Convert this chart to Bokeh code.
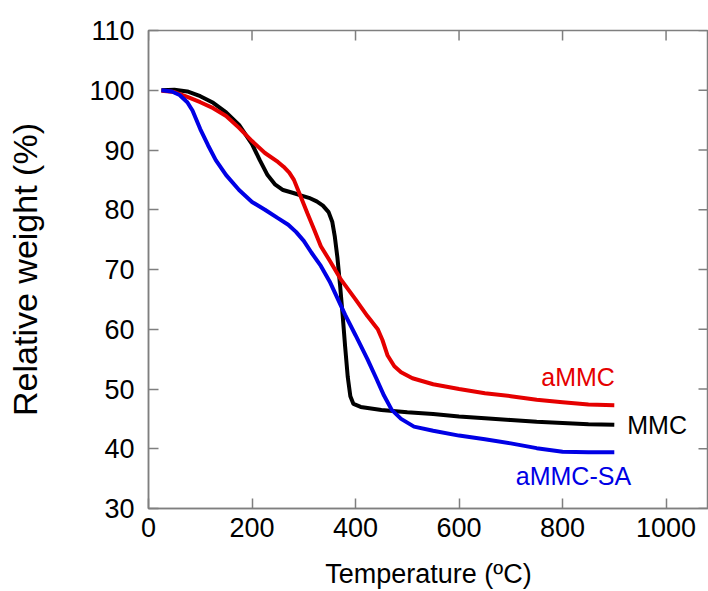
from bokeh.plotting import figure
from bokeh.models import Range1d, FixedTicker
from bokeh.core.properties import value
from bokeh.embed import file_html
from bokeh.resources import INLINE

# MMC (black)
mmc_t = [25, 50, 75, 100, 125, 150, 175, 200, 215, 230, 245, 260, 280, 294, 310, 325,
         337, 348, 355, 360, 365, 370, 375, 380, 385, 390, 396, 410, 450, 500, 550,
         600, 650, 700, 750, 800, 850, 900]
mmc_w = [100.0, 100.1, 99.8, 99.0, 97.9, 96.3, 94.2, 91.0, 88.3, 85.8, 84.2, 83.3, 82.8,
         82.4, 82.0, 81.4, 80.7, 79.6, 78.0, 75.5, 72.0, 67.5, 62.5, 57.0, 52.0, 48.8,
         47.5, 47.0, 46.5, 46.1, 45.8, 45.4, 45.1, 44.8, 44.5, 44.3, 44.1, 44.0]

# aMMC (red)
ammc_t = [25, 50, 75, 100, 125, 150, 175, 200, 225, 250, 261, 272, 281, 294, 307, 320,
          333, 350, 372, 400, 423, 443, 452, 462, 475, 488, 510, 550, 600, 650, 700,
          750, 800, 850, 900]
ammc_w = [99.9, 99.7, 98.9, 98.0, 97.0, 95.7, 93.7, 91.5, 89.5, 88.0, 87.2, 86.2, 85.0,
          82.2, 79.4, 76.7, 73.9, 71.5, 68.3, 65.0, 62.2, 60.0, 58.2, 55.6, 53.8, 52.8,
          51.8, 50.8, 50.0, 49.3, 48.8, 48.2, 47.8, 47.4, 47.3]

# aMMC-SA (blue)
sa_t = [25, 45, 60, 75, 85, 100, 115, 130, 150, 175, 200, 225, 250, 270, 285, 300, 315,
        333, 350, 365, 380, 400, 423, 440, 455, 470, 488, 513, 550, 600, 650, 700, 750,
        800, 850, 900]
sa_w = [100.0, 99.8, 99.2, 98.0, 96.6, 93.5, 90.8, 88.3, 85.8, 83.3, 81.3, 80.0, 78.6,
        77.5, 76.3, 74.8, 72.8, 70.6, 68.0, 65.2, 62.4, 59.0, 55.0, 51.8, 48.9, 46.5,
        45.0, 43.7, 43.0, 42.2, 41.6, 40.9, 40.1, 39.5, 39.4, 39.4]

x_ticks = [0, 200, 400, 600, 800, 1000]
y_ticks = [30, 40, 50, 60, 70, 80, 90, 100, 110]

series_labels = ["aMMC", "MMC", "aMMC-SA"]
label_x = [830, 925, 821]
label_y = [52.0, 44.0, 35.5]
label_align = ["center", "left", "center"]
colors = ["#e50000", "#000000", "#0000e5"]

FONT = "Liberation Sans"
AX = "#7f7f7f"
X0, X1, Y0, Y1 = 0, 1082, 30, 110
W, H = 708, 591
ML, MT, MB, MR = 148, 30, 81, 0
TICK_PX = 10

p = figure(width=W, height=H, output_backend="svg", toolbar_location=None,
           x_range=Range1d(X0, X1), y_range=Range1d(Y0, Y1),
           min_border_left=ML, min_border_top=MT, min_border_bottom=MB,
           min_border_right=MR, x_axis_label="Temperature (\u00baC)",
           y_axis_label="Relative weight (%)")
p.grid.visible = False
p.outline_line_color = AX
p.outline_line_width = 1.5
p.background_fill_color = "white"
p.border_fill_color = "white"

p.xaxis.ticker = FixedTicker(ticks=x_ticks)
p.yaxis.ticker = FixedTicker(ticks=y_ticks)
for ax in (p.xaxis[0], p.yaxis[0]):
    ax.axis_line_color = AX
    ax.axis_line_width = 1.5
    ax.major_tick_line_color = AX
    ax.major_tick_line_width = 1.5
    ax.major_tick_in = TICK_PX
    ax.major_tick_out = 0
    ax.minor_tick_line_color = None
    ax.major_label_text_font = FONT
    ax.major_label_text_font_size = "27px"
    ax.major_label_text_color = "black"
    ax.axis_label_text_font = FONT
    ax.axis_label_text_font_style = "normal"
    ax.axis_label_text_color = "black"
p.xaxis.axis_label_text_font_size = "27px"
p.yaxis.axis_label_text_font_size = "34px"
p.xaxis.major_label_standoff = 9
p.yaxis.major_label_standoff = 14
p.xaxis.axis_label_standoff = 19
p.yaxis.axis_label_standoff = 42

# inward ticks on the top and right frame edges, derived from the tick lists
frame_w = W - ML - MR
frame_h = H - MT - MB
dy = TICK_PX * (Y1 - Y0) / frame_h
dx = TICK_PX * (X1 - X0) / frame_w
p.segment(x0=x_ticks, y0=[Y1] * len(x_ticks), x1=x_ticks, y1=[Y1 - dy] * len(x_ticks),
          line_color=AX, line_width=1.5)
p.segment(x0=[X1] * len(y_ticks), y0=y_ticks, x1=[X1 - dx] * len(y_ticks), y1=y_ticks,
          line_color=AX, line_width=1.5)

p.line(mmc_t, mmc_w, line_color=colors[1], line_width=4)
p.line(ammc_t, ammc_w, line_color=colors[0], line_width=4)
p.line(sa_t, sa_w, line_color=colors[2], line_width=4)

for lab, lx, ly, al, c in zip(series_labels, label_x, label_y, label_align, colors):
    p.text(x=[lx], y=[ly], text=[lab], text_color=c, text_font=value(FONT),
           text_font_size="25px", text_align=al, text_baseline="middle")

open("out.html", "w").write(file_html(p, INLINE))
